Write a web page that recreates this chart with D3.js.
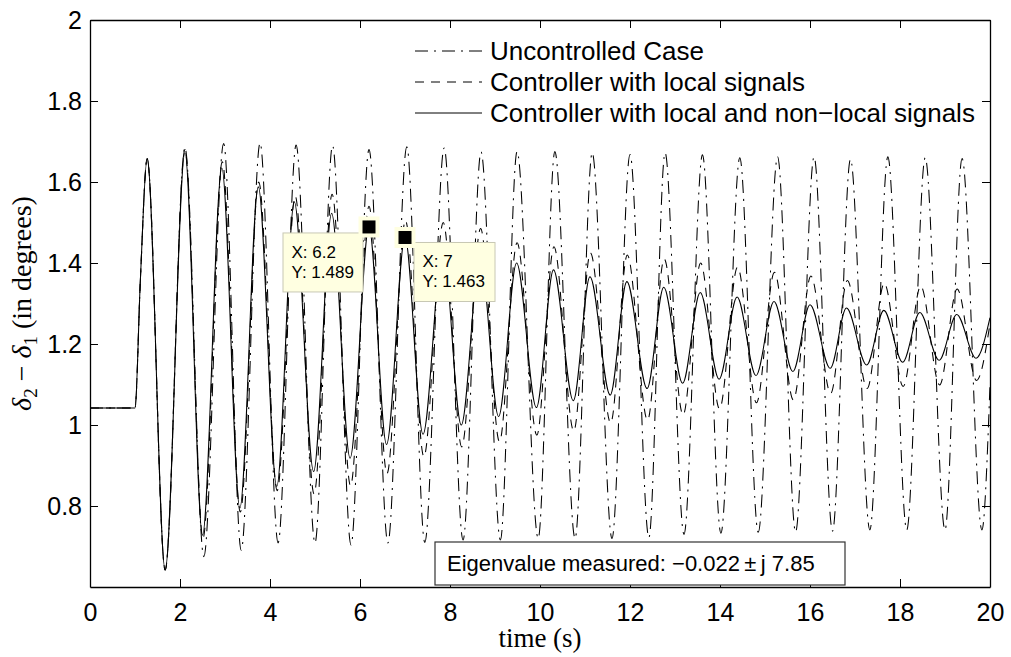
<!DOCTYPE html>
<html>
<head>
<meta charset="utf-8">
<script src="https://cdn.jsdelivr.net/npm/d3@7"></script>
<style>
  body { margin: 0; background: #fff; }
  text { font-family: "Liberation Sans", Arial, Helvetica, sans-serif; fill: #000; }
  .serif { font-family: "Liberation Serif", "Times New Roman", serif; }
</style>
</head>
<body>
<div id="chart"></div>
<script>
var svgWidth = 1011;
var svgHeight = 657;

var margin = { top: 20, right: 21, bottom: 70, left: 90 };

var width = svgWidth - margin.left - margin.right;
var height = svgHeight - margin.top - margin.bottom;

// ---- data (time in s, value in degrees) ----
// pre-fault steady state and first rise, shared by all three cases
var startTime = [0, 1.0, 1.12];
var startValue = [1.042, 1.042, 1.36];

// Uncontrolled case
var uncPeakTime = [1.27, 2.11, 2.97, 3.78, 4.58, 5.39, 6.2, 7.04, 7.87, 8.69, 9.49, 10.33,
  11.16, 12.0, 12.78, 13.61, 14.44, 15.28, 16.09, 16.9, 17.73, 18.56, 19.38];
var uncPeakValue = [1.658, 1.685, 1.695, 1.696, 1.691, 1.69, 1.68, 1.687, 1.684, 1.674, 1.675, 1.675,
  1.672, 1.668, 1.672, 1.667, 1.66, 1.662, 1.662, 1.656, 1.662, 1.66, 1.658];
var uncTroughTime = [1.67, 2.53, 3.36, 4.18, 5.0, 5.8, 6.62, 7.44, 8.29, 9.12, 9.96, 10.78,
  11.6, 12.42, 13.2, 14.02, 14.85, 15.68, 16.5, 17.33, 18.15, 19.0, 19.82];
var uncTroughValue = [0.642, 0.675, 0.691, 0.709, 0.709, 0.704, 0.709, 0.71, 0.716, 0.716, 0.72, 0.72,
  0.72, 0.722, 0.73, 0.733, 0.735, 0.736, 0.738, 0.741, 0.741, 0.741, 0.741];
var uncEndValue = 1.1;

// Controller with local signals
var locPeakTime = [1.27, 2.11, 2.94, 3.75, 4.56, 5.38, 6.2, 7.01, 7.85, 8.68, 9.49, 10.31,
  11.12, 11.94, 12.76, 13.57, 14.39, 15.21, 16.02, 16.83, 17.65, 18.46, 19.27];
var locPeakValue = [1.658, 1.68, 1.65, 1.6, 1.565, 1.57, 1.54, 1.505, 1.5, 1.485, 1.45, 1.44,
  1.425, 1.42, 1.41, 1.4, 1.39, 1.377, 1.368, 1.357, 1.35, 1.343, 1.336];
var locTroughTime = [1.67, 2.51, 3.34, 4.16, 4.98, 5.79, 6.6, 7.42, 8.26, 9.1, 9.93, 10.75,
  11.57, 12.39, 13.18, 13.99, 14.81, 15.63, 16.46, 17.27, 18.07, 18.88, 19.7];
var locTroughValue = [0.642, 0.72, 0.785, 0.838, 0.83, 0.85, 0.88, 0.922, 0.946, 0.959, 0.975, 0.985,
  1.005, 1.012, 1.025, 1.04, 1.055, 1.062, 1.078, 1.09, 1.095, 1.099, 1.11];
var locEndValue = 1.25;

// Controller with local and non-local signals
var allPeakTime = [1.27, 2.11, 2.93, 3.74, 4.54, 5.37, 6.2, 7.0, 7.84, 8.67, 9.48, 10.3,
  11.11, 11.93, 12.75, 13.56, 14.38, 15.2, 16.0, 16.81, 17.64, 18.44, 19.26];
var allPeakValue = [1.658, 1.672, 1.634, 1.588, 1.551, 1.523, 1.489, 1.463, 1.44, 1.42, 1.4, 1.383,
  1.366, 1.354, 1.34, 1.327, 1.316, 1.305, 1.297, 1.289, 1.283, 1.278, 1.273];
var allTroughTime = [1.67, 2.5, 3.33, 4.15, 4.97, 5.78, 6.59, 7.4, 8.25, 9.08, 9.92, 10.74,
  11.56, 12.38, 13.17, 13.98, 14.8, 15.62, 16.45, 17.26, 18.06, 18.87, 19.69];
var allTroughValue = [0.642, 0.728, 0.795, 0.848, 0.885, 0.918, 0.952, 0.977, 1.0, 1.021, 1.043, 1.06,
  1.074, 1.09, 1.103, 1.113, 1.122, 1.132, 1.14, 1.148, 1.155, 1.16, 1.165];
var allEndValue = 1.265;

var legendNames = ["Uncontrolled Case", "Controller with local signals",
  "Controller with local and non\u2212local signals"];

var xTicks = [0, 2, 4, 6, 8, 10, 12, 14, 16, 18, 20];
var yTicks = [0.8, 1, 1.2, 1.4, 1.6, 1.8, 2];

// data cursor tips
var tipX = [6.2, 7];
var tipY = [1.489, 1.463];

var eigenText = "Eigenvalue measured: \u22120.022\u2009\u00b1\u2009j 7.85";

// build one series from its extrema
function buildSeries(peakT, peakV, troughT, troughV, endV) {
  var pts = startTime.map(function(t, i) { return { t: t, v: startValue[i] }; });
  peakT.forEach(function(t, i) { pts.push({ t: t, v: peakV[i] }); });
  troughT.forEach(function(t, i) { pts.push({ t: t, v: troughV[i] }); });
  pts.push({ t: 20, v: endV });
  pts.sort(function(a, b) { return a.t - b.t; });
  return pts;
}

var series = [
  { data: buildSeries(uncPeakTime, uncPeakValue, uncTroughTime, uncTroughValue, uncEndValue), dash: "13,6,2,6" },
  { data: buildSeries(locPeakTime, locPeakValue, locTroughTime, locTroughValue, locEndValue), dash: "9,7" },
  { data: buildSeries(allPeakTime, allPeakValue, allTroughTime, allTroughValue, allEndValue), dash: null }
];

var svg = d3.select("#chart")
  .append("svg")
  .attr("width", svgWidth)
  .attr("height", svgHeight);

var chartGroup = svg.append("g")
  .attr("transform", `translate(${margin.left}, ${margin.top})`);

var xScale = d3.scaleLinear().domain([0, 20]).range([0, width]);
var yScale = d3.scaleLinear().domain([0.6, 2]).range([height, 0]);

chartGroup.append("clipPath").attr("id", "plotClip")
  .append("rect").attr("width", width).attr("height", height);

// curves
var line = d3.line()
  .x(d => xScale(d.t))
  .y(d => yScale(d.v))
  .curve(d3.curveMonotoneX);

chartGroup.append("g").attr("clip-path", "url(#plotClip)")
  .selectAll("path")
  .data(series)
  .enter()
  .append("path")
  .attr("d", d => line(d.data))
  .attr("fill", "none")
  .attr("stroke", "#000")
  .attr("stroke-width", 1.05)
  .attr("stroke-dasharray", d => d.dash);

// axes, ticks inside like matlab, box on
var tickLen = 8;
var bottomAxis = d3.axisBottom(xScale).tickValues(xTicks).tickSizeInner(-tickLen).tickSizeOuter(0).tickPadding(16);
var leftAxis = d3.axisLeft(yScale).tickValues(yTicks).tickFormat(d3.format("")).tickSizeInner(-tickLen).tickSizeOuter(0).tickPadding(8);
var topAxis = d3.axisTop(xScale).tickValues(xTicks).tickSizeInner(-tickLen).tickSizeOuter(0).tickFormat("");
var rightAxis = d3.axisRight(yScale).tickValues(yTicks).tickSizeInner(-tickLen).tickSizeOuter(0).tickFormat("");

var xAxis = chartGroup.append("g").attr("transform", `translate(0, ${height})`).call(bottomAxis);
var yAxis = chartGroup.append("g").call(leftAxis);
chartGroup.append("g").call(topAxis);
chartGroup.append("g").attr("transform", `translate(${width}, 0)`).call(rightAxis);

chartGroup.selectAll(".domain").attr("stroke", "#000").attr("stroke-width", 1.3);
chartGroup.selectAll(".tick line").attr("stroke", "#000").attr("stroke-width", 1);
chartGroup.selectAll(".tick text").attr("font-size", 25).attr("fill", "#000")
  .style("font-family", "'Liberation Sans', Arial, sans-serif");

// axis labels
chartGroup.append("text")
  .attr("class", "serif")
  .attr("x", width / 2)
  .attr("y", height + 60)
  .attr("text-anchor", "middle")
  .attr("font-size", 27)
  .text("time (s)");

var yLabel = chartGroup.append("text")
  .attr("class", "serif")
  .attr("transform", "rotate(-90)")
  .attr("x", -height / 2)
  .attr("y", -59)
  .attr("text-anchor", "middle")
  .attr("font-size", 28);
yLabel.append("tspan").attr("font-style", "italic").text("\u03b4");
yLabel.append("tspan").attr("font-size", 19).attr("dy", 6).text("2");
yLabel.append("tspan").attr("dy", -6).text(" \u2212 ");
yLabel.append("tspan").attr("font-style", "italic").text("\u03b4");
yLabel.append("tspan").attr("font-size", 19).attr("dy", 6).text("1");
yLabel.append("tspan").attr("dy", -6).text(" (in degrees)");

// legend (no box)
var legend = chartGroup.append("g").attr("transform", "translate(325, 31)");
legendNames.forEach(function(name, i) {
  var row = legend.append("g").attr("transform", `translate(0, ${i * 31})`);
  row.append("line")
    .attr("x1", 0).attr("x2", 67)
    .attr("y1", 0).attr("y2", 0)
    .attr("stroke", "#000")
    .attr("stroke-width", 1)
    .attr("stroke-dasharray", series[i].dash);
  row.append("text")
    .attr("x", 75)
    .attr("y", 9)
    .attr("font-size", 26)
    .text(name);
});

// data tips
var tipBoxes = [
  { dx: -86, dy: 6, w: 80, h: 59 },
  { dx: 9, dy: 5, w: 81, h: 59 }
];
tipX.forEach(function(tx, i) {
  var px = xScale(tx), py = yScale(tipY[i]);
  var b = tipBoxes[i];
  var g = chartGroup.append("g");
  g.append("rect")
    .attr("x", px + b.dx).attr("y", py + b.dy)
    .attr("width", b.w).attr("height", b.h)
    .attr("fill", "#ffffe1")
    .attr("stroke", "#c8c8b4")
    .attr("stroke-width", 1);
  g.append("text")
    .attr("x", px + b.dx + 8.5).attr("y", py + b.dy + 25)
    .attr("font-size", 17)
    .text("X: " + tx);
  g.append("text")
    .attr("x", px + b.dx + 8.5).attr("y", py + b.dy + 45)
    .attr("font-size", 17)
    .text("Y: " + tipY[i]);
  g.append("rect")
    .attr("x", px - 10.5).attr("y", py - 10.5)
    .attr("width", 21).attr("height", 21)
    .attr("fill", "#ffffe1");
  g.append("rect")
    .attr("x", px - 6.5).attr("y", py - 6.5)
    .attr("width", 13).attr("height", 13)
    .attr("fill", "#000");
});

// eigenvalue annotation box
var eigen = chartGroup.append("g").attr("transform", "translate(345, 522)");
eigen.append("rect")
  .attr("width", 410).attr("height", 43)
  .attr("fill", "#fff")
  .attr("stroke", "#333")
  .attr("stroke-width", 1.2);
eigen.append("text")
  .attr("x", 12).attr("y", 29)
  .attr("font-size", 22)
  .text(eigenText);
</script>
</body>
</html>
